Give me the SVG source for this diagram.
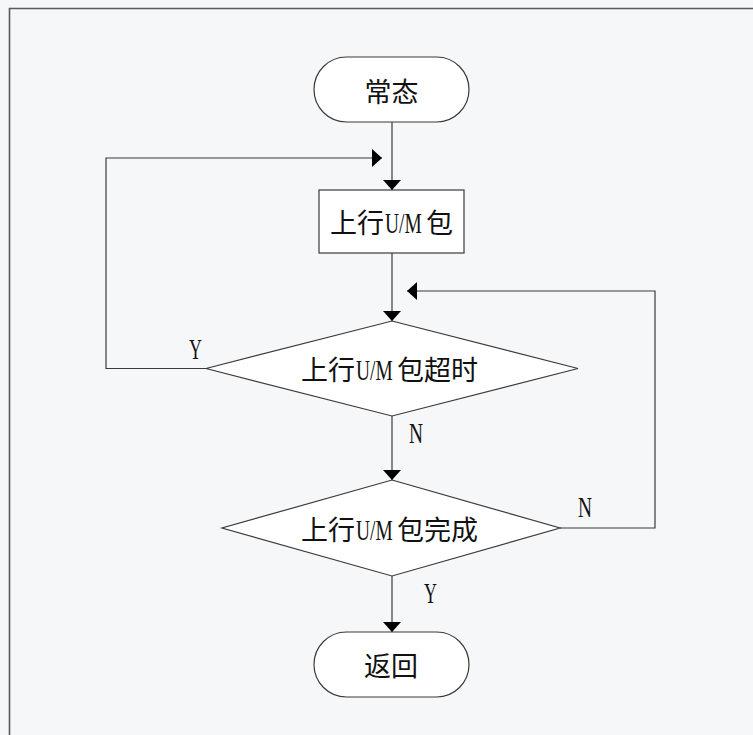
<svg xmlns="http://www.w3.org/2000/svg" width="753" height="735" viewBox="0 0 753 735">
  <defs>
    <marker id="arrow" viewBox="0 0 10 18" refX="10" refY="9" markerWidth="10" markerHeight="18" markerUnits="userSpaceOnUse" orient="auto">
      <path d="M0,0 L10,9 L0,18 z" fill="#000"/>
    </marker>
    <style>
      .shape { fill: #ffffff; stroke: #3a3a3a; stroke-width: 1.2; }
      .edge { fill: none; stroke: #3a3a3a; stroke-width: 1.2; }
      .cjk { font-family: "Noto Sans CJK SC", sans-serif; font-size: 27px; fill: #111; }
      .mid { text-anchor: middle; dominant-baseline: central; }
      .latin { font-family: "Liberation Serif", serif; font-size: 29px; fill: #111; }
      .yn { font-family: "Liberation Serif", serif; font-size: 29px; fill: #111; }
    </style>
  </defs>

  <!-- page background and frame -->
  <rect x="0" y="0" width="753" height="735" fill="#f6f7f9"/>
  <path d="M9.5,735 V8.5 H753" fill="none" stroke="#5a5a5a" stroke-width="1.6"/>

  <!-- connectors -->
  <g id="connectors">
    <path class="edge" d="M392,122 V190" marker-end="url(#arrow)"/>
    <path class="edge" d="M392,253 V321" marker-end="url(#arrow)"/>
    <path class="edge" d="M392,416 V480" marker-end="url(#arrow)"/>
    <path class="edge" d="M392,576 V632" marker-end="url(#arrow)"/>
    <path class="edge" d="M206,368.5 H106 V158 H382" marker-end="url(#arrow)"/>
    <path class="edge" d="M560,528 H655 V291 H407" marker-end="url(#arrow)"/>
    <text class="yn" transform="translate(189 359) scale(0.62 1)">Y</text>
    <text class="yn" transform="translate(409 443) scale(0.67 1)">N</text>
    <text class="yn" transform="translate(578 517) scale(0.67 1)">N</text>
    <text class="yn" transform="translate(424 603) scale(0.62 1)">Y</text>
  </g>

  <!-- start terminal -->
  <g id="start">
    <rect class="shape" x="314" y="57" width="155" height="65" rx="32.5" ry="32.5"/>
    <text class="cjk mid" x="391.5" y="90">常态</text>
  </g>

  <!-- upload packet: CJK glyphs plus a horizontally squeezed serif "U/M" -->
  <g id="upload">
    <rect class="shape" x="319" y="190" width="145" height="63"/>
    <text class="cjk" x="330" y="232.5">上行</text>
    <text class="latin" transform="translate(385 232.5) scale(0.67 1)">U/M</text>
    <text class="cjk" x="426" y="232.5">包</text>
  </g>

  <!-- timeout decision -->
  <g id="timeout">
    <polygon class="shape" points="392,321 578,368.5 392,416 206,368.5"/>
    <text class="cjk" x="301" y="380">上行</text>
    <text class="latin" transform="translate(356 380) scale(0.67 1)">U/M</text>
    <text class="cjk" x="397" y="380">包超时</text>
  </g>

  <!-- completion decision -->
  <g id="complete">
    <polygon class="shape" points="392,480 560,528 392,576 222,528"/>
    <text class="cjk" x="301" y="540">上行</text>
    <text class="latin" transform="translate(356 540) scale(0.67 1)">U/M</text>
    <text class="cjk" x="397" y="540">包完成</text>
  </g>

  <!-- end terminal -->
  <g id="end">
    <rect class="shape" x="314" y="632" width="155" height="65" rx="32.5" ry="32.5"/>
    <text class="cjk mid" x="391" y="664">返回</text>
  </g>
</svg>
